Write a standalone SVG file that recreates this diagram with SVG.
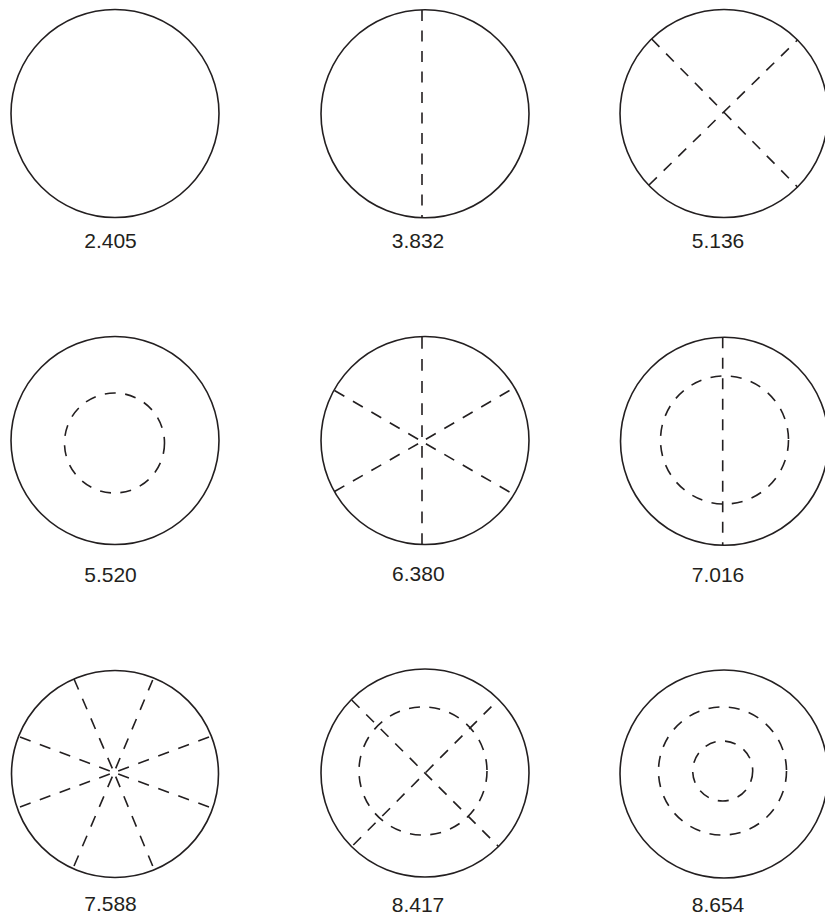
<svg xmlns="http://www.w3.org/2000/svg" width="825" height="919" viewBox="0 0 825 919">
<style>
.edge{fill:none;stroke:#231f20;stroke-width:1.6}
.nd{fill:none;stroke:#231f20;stroke-width:1.6;stroke-dasharray:11 9.5}
.sp{fill:none;stroke:#231f20;stroke-width:1.6;stroke-dasharray:11.5 10}
.lbl{font-family:"Liberation Sans",Arial,sans-serif;font-size:21px;fill:#231f20;text-anchor:middle}
</style>
<rect width="825" height="919" fill="#ffffff"/>
<g id="mode-2405">
<circle class="edge" cx="115" cy="113.5" r="104"/>
<text class="lbl" x="110.5" y="248.3">2.405</text>
</g>
<g id="mode-3832">
<circle class="edge" cx="425" cy="113.8" r="104"/>
<text class="lbl" x="418" y="247.5">3.832</text>
</g>
<g id="mode-5136">
<circle class="edge" cx="724" cy="113.5" r="104"/>
<text class="lbl" x="718" y="247.5">5.136</text>
</g>
<g id="mode-5520">
<circle class="edge" cx="115" cy="440.5" r="104"/>
<text class="lbl" x="110.5" y="581.7">5.520</text>
</g>
<g id="mode-6380">
<circle class="edge" cx="425" cy="440.5" r="104"/>
<text class="lbl" x="418.3" y="581">6.380</text>
</g>
<g id="mode-7016">
<circle class="edge" cx="724.5" cy="441.3" r="104"/>
<text class="lbl" x="718" y="581.7">7.016</text>
</g>
<g id="mode-7588">
<circle class="edge" cx="115" cy="774" r="103.5"/>
<text class="lbl" x="110.5" y="911">7.588</text>
</g>
<g id="mode-8417">
<circle class="edge" cx="425" cy="773" r="104"/>
<text class="lbl" x="418" y="912">8.417</text>
</g>
<g id="mode-8654">
<circle class="edge" cx="724" cy="774" r="104"/>
<text class="lbl" x="718" y="911.7">8.654</text>
</g>
<g id="nodal-lines">
<line class="nd" x1="422" y1="10" x2="422" y2="217.7"/>
<line class="nd" x1="651.7" y1="39" x2="797.5" y2="187"/>
<line class="nd" x1="649" y1="185" x2="797.5" y2="40"/>
<circle class="nd" cx="114.5" cy="443" r="50"/>
<line class="sp" pathLength="97.5" x1="422" y1="337" x2="422" y2="437"/>
<line class="sp" pathLength="97.5" x1="422" y1="545" x2="422" y2="446"/>
<line class="sp" pathLength="97.5" x1="334.5" y1="390.5" x2="418.1" y2="439.2"/>
<line class="sp" pathLength="97.5" x1="509.5" y1="390.5" x2="425.9" y2="439.2"/>
<line class="sp" pathLength="97.5" x1="334.5" y1="491.5" x2="418.1" y2="443.8"/>
<line class="sp" pathLength="97.5" x1="509.5" y1="492" x2="425.9" y2="443.8"/>
<circle class="nd" cx="724.5" cy="440" r="64"/>
<line class="nd" x1="722.7" y1="337.3" x2="722.7" y2="545.3"/>
<line class="sp" pathLength="97.5" x1="74" y1="679" x2="112.3" y2="768.4"/>
<line class="sp" pathLength="97.5" x1="152.7" y1="680" x2="115.7" y2="768.4"/>
<line class="sp" pathLength="97.5" x1="74" y1="866" x2="112.3" y2="776.6"/>
<line class="sp" pathLength="97.5" x1="152.7" y1="866" x2="115.7" y2="776.6"/>
<line class="sp" pathLength="97.5" x1="20" y1="737" x2="109.8" y2="770.9"/>
<line class="sp" pathLength="97.5" x1="209" y1="737" x2="118.2" y2="770.9"/>
<line class="sp" pathLength="97.5" x1="20" y1="807" x2="109.8" y2="774.1"/>
<line class="sp" pathLength="97.5" x1="209" y1="807" x2="118.2" y2="774.1"/>
<circle class="nd" cx="423" cy="771" r="64"/>
<line class="nd" x1="351.7" y1="700" x2="498.5" y2="846.5"/>
<line class="nd" x1="353.3" y1="845" x2="498.5" y2="699.5"/>
<circle class="nd" cx="722.5" cy="771" r="64"/>
<circle class="nd" cx="722.7" cy="771" r="30"/>
</g>
</svg>
